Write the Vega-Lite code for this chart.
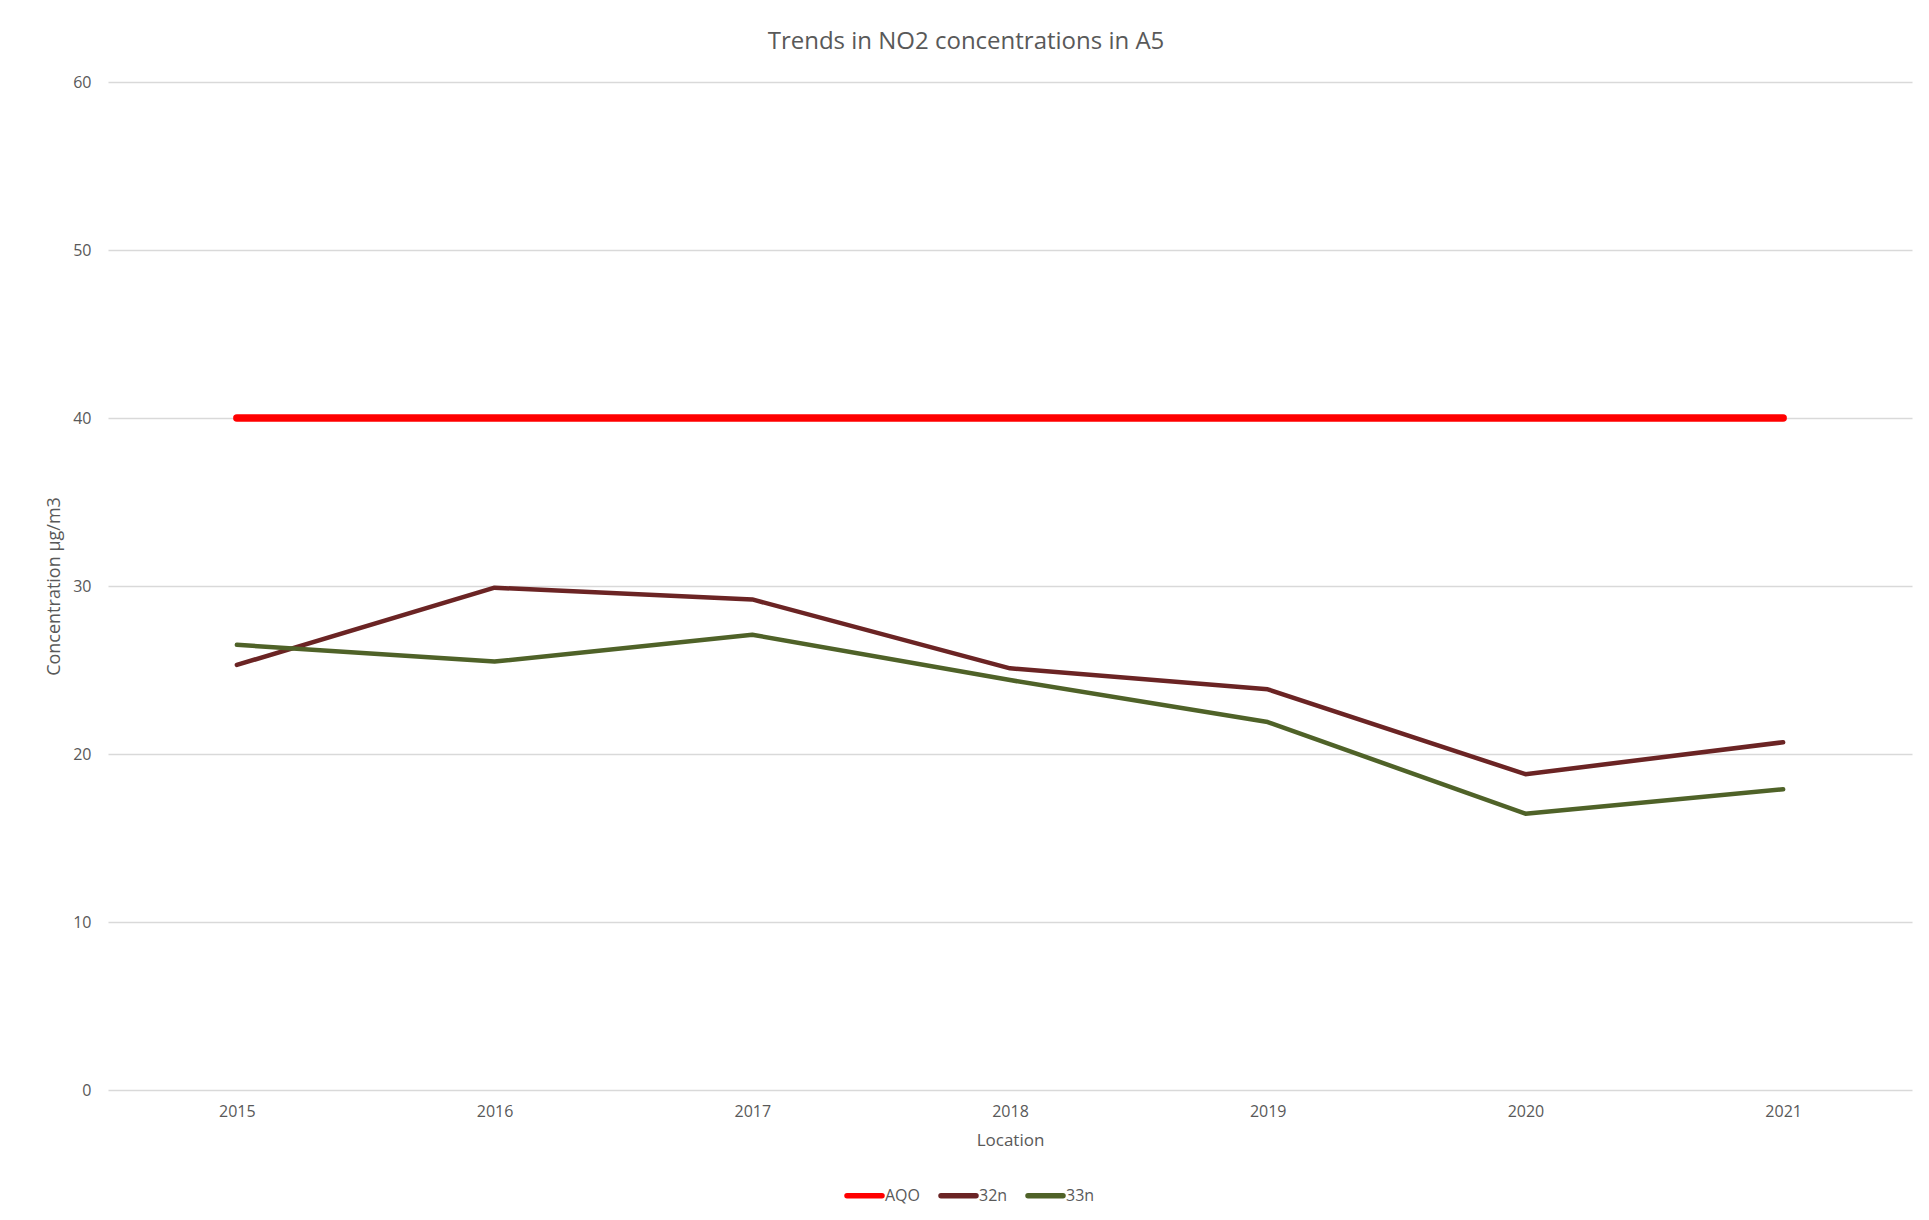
{
  "$schema": "https://vega.github.io/schema/vega-lite/v6.json",
  "autosize": {"type": "none"},
  "width": 1804,
  "height": 1008,
  "padding": {"left": 108, "top": 82, "right": 17, "bottom": 130},
  "background": "white",
  "title": {
    "text": "Trends in NO2 concentrations in A5",
    "font": "Open Sans",
    "fontSize": 24,
    "fontWeight": "normal",
    "color": "#595959",
    "offset": 20,
    "anchor": "middle",
    "dx": -44
  },
  "config": {
    "view": {"stroke": null},
    "font": "Open Sans"
  },
  "data": {
    "values": [
      {"year": "2015", "series": "AQO", "value": 40},
      {"year": "2016", "series": "AQO", "value": 40},
      {"year": "2017", "series": "AQO", "value": 40},
      {"year": "2018", "series": "AQO", "value": 40},
      {"year": "2019", "series": "AQO", "value": 40},
      {"year": "2020", "series": "AQO", "value": 40},
      {"year": "2021", "series": "AQO", "value": 40},
      {"year": "2015", "series": "32n", "value": 25.3},
      {"year": "2016", "series": "32n", "value": 29.9},
      {"year": "2017", "series": "32n", "value": 29.2},
      {"year": "2018", "series": "32n", "value": 25.1},
      {"year": "2019", "series": "32n", "value": 23.85},
      {"year": "2020", "series": "32n", "value": 18.8},
      {"year": "2021", "series": "32n", "value": 20.7},
      {"year": "2015", "series": "33n", "value": 26.5},
      {"year": "2016", "series": "33n", "value": 25.5},
      {"year": "2017", "series": "33n", "value": 27.1},
      {"year": "2018", "series": "33n", "value": 24.4},
      {"year": "2019", "series": "33n", "value": 21.9},
      {"year": "2020", "series": "33n", "value": 16.45},
      {"year": "2021", "series": "33n", "value": 17.9}
    ]
  },
  "mark": {"type": "line", "strokeCap": "round", "strokeJoin": "round"},
  "encoding": {
    "x": {
      "field": "year",
      "type": "ordinal",
      "scale": {"type": "point", "padding": 0.5},
      "axis": {
        "title": "Location",
        "titleFont": "Open Sans",
        "titleFontSize": 17,
        "titleFontWeight": "normal",
        "titleColor": "#595959",
        "titlePadding": 13,
        "labelAngle": 0,
        "labelFont": "Open Sans",
        "labelFontSize": 16,
        "labelColor": "#595959",
        "labelPadding": 13,
        "ticks": false,
        "domain": false,
        "grid": false
      }
    },
    "y": {
      "field": "value",
      "type": "quantitative",
      "scale": {"domain": [0, 60], "nice": false},
      "axis": {
        "title": "Concentration µg/m3",
        "titleFont": "Open Sans",
        "titleFontSize": 18,
        "titleFontWeight": "normal",
        "titleColor": "#595959",
        "titlePadding": 9,
        "values": [0, 10, 20, 30, 40, 50, 60],
        "labelFont": "Open Sans",
        "labelFontSize": 16,
        "labelColor": "#595959",
        "labelPadding": 17,
        "ticks": false,
        "domain": false,
        "grid": true,
        "gridColor": "#D9D9D9",
        "gridWidth": 1.3
      }
    },
    "color": {
      "field": "series",
      "type": "nominal",
      "scale": {"domain": ["AQO", "32n", "33n"], "range": ["#FF0000", "#6B2424", "#4F6228"]},
      "legend": {
        "title": null,
        "orient": "none",
        "legendX": 736,
        "legendY": 1093,
        "direction": "horizontal",
        "symbolType": "stroke",
        "symbolSize": 1225,
        "symbolStrokeWidth": 5.5,
        "labelFont": "Open Sans",
        "labelFontSize": 16,
        "labelColor": "#595959",
        "labelOffset": 0,
        "columnPadding": 9,
        "encode": {
          "symbols": {
            "update": {
              "strokeCap": {"value": "round"}
            }
          }
        }
      }
    },
    "strokeWidth": {
      "condition": {"test": "datum.series === 'AQO'", "value": 7.5},
      "value": 4.5
    }
  }
}
